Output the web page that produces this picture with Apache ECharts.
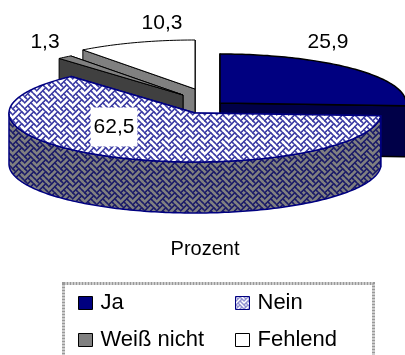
<!DOCTYPE html>
<html><head><meta charset="utf-8">
<style>html,body{margin:0;padding:0;background:#fff}#c{width:405px;height:355px}</style>
<script src="https://cdn.jsdelivr.net/npm/echarts@6/dist/echarts.min.js"></script>
</head><body><div id="c"></div>
<script>
const categories = ['Ja', 'Nein', 'Weiß nicht', 'Fehlend'];
const values = [25.9, 62.5, 1.3, 10.3];
const axisTitle = 'Prozent';

// drawing geometry, separate from the data
const RX = 186, RY = 49, DEPTH = 51;
const apex = [[220,103],[195,113],[183,95],[195,89]];
const labelAt = [[328,42],[114,127],[45,42],[162,23]];
const stack = [3,4,2,1];
const FONT = '"Liberation Sans", Arial, sans-serif';
const WEAVE = [0x88,0x54,0x22,0x45,0x88,0x14,0x22,0x51];
function weave(bg, fg, s, w){
  const T = 8*s;
  const o = document.createElement('canvas'); o.width = o.height = T;
  const c = o.getContext('2d');
  c.fillStyle = bg; c.fillRect(0,0,T,T);
  c.strokeStyle = fg; c.lineWidth = w; c.lineCap = 'square';
  const on = (x,y)=>WEAVE[(y+8)%8] & (0x80>>((x+8)%8));
  for(let ox=-1;ox<=1;ox++) for(let oy=-1;oy<=1;oy++)
    for(let y=0;y<8;y++) for(let x=0;x<8;x++){
      if(!on(x,y)) continue;
      [[1,1],[-1,1]].forEach(([dx,dy])=>{
        if(on(x+dx,y+dy)){
          c.beginPath();
          c.moveTo((x+ox*8+.5)*s,(y+oy*8+.5)*s);
          c.lineTo((x+dx+ox*8+.5)*s,(y+dy+oy*8+.5)*s);
          c.stroke();
        }
      });
    }
  return {image:o, repeat:'repeat'};
}
const topFill = weave('#ffffff','#3c3ca4',1.5,1.3);
const sideFill = weave('#808080','#1c1c68',1.5,1.3);
const looks = [
  {top:'#000080', wall:'#000048', rim:'#000048', line:'#000000', lw:1.5},
  {top:topFill, wall:sideFill, rim:sideFill, line:'#000080', lw:1.5},
  {top:'#808080', wall:'#404040', rim:'#404040', line:'#000000', lw:1},
  {top:'#ffffff', wall:'#808080', rim:'#808080', line:'#000000', lw:1}
];
const total = values.reduce((a,b)=>a+b,0);
const label = v => String(v).replace('.',',');

function renderSlice(params){
  const i = params.seriesIndex;
  const before = values.slice(0,i).reduce((a,b)=>a+b,0);
  const t0 = before/total*2*Math.PI, t1 = (before+values[i])/total*2*Math.PI;
  const [ax,ay] = apex[i], L = looks[i];
  const pt = (t,dz)=>[ax+RX*Math.sin(t), ay-RY*Math.cos(t)+(dz||0)];
  const arc = (a,b,dz)=>{ const n=Math.max(2,Math.ceil((b-a)/0.02)), r=[];
    for(let k=0;k<=n;k++) r.push(pt(a+(b-a)*k/n,dz)); return r; };
  const st = (fill)=>({fill, stroke:L.line, lineWidth:L.lw, lineJoin:'round'});
  const kids = [];
  const wall = t=>{ const p=pt(t); kids.push({type:'polygon',shape:{points:[[ax,ay],p,[p[0],p[1]+DEPTH],[ax,ay+DEPTH]]},style:st(L.wall)}); };
  wall(t1); wall(t0);
  const a = Math.max(t0,Math.PI/2), b = Math.min(t1,1.5*Math.PI);
  if(b>a){ kids.push({type:'polygon',shape:{points:arc(a,b,0).concat(arc(a,b,DEPTH).reverse())},style:st(L.rim)}); }
  kids.push({type:'polygon',shape:{points:[[ax,ay]].concat(arc(t0,t1,0))},style:st(L.top)});
  const isInner = i===1;
  kids.push({type:'text',z2:10,style:{text:label(values[i]),x:labelAt[i][0],y:labelAt[i][1],align:'center',verticalAlign:'middle',
    font:'21px '+FONT,fill:'#000',backgroundColor:isInner?'#fff':'transparent',padding:isInner?[9,3,9,3]:0}});
  return {type:'group',children:kids};
}
const series = categories.map((name,i)=>({
  type:'custom', name, coordinateSystem:'none', silent:true, animation:false, clip:false, z:stack[i],
  data:[[values[i]]], renderItem:renderSlice,
  itemStyle:{color:i===1?topFill:looks[i].top}
}));
const swatch = i=>({name:categories[i], icon:'rect',
  itemStyle:{color:i===1?weave('#ffffff','#2020a0',1,1):looks[i].top,borderColor:i===1?'#000080':'#000',borderWidth:1}});
const legendBase = {orient:'vertical',top:292,itemWidth:14,itemHeight:13,itemGap:15,selectedMode:false,
  textStyle:{fontFamily:FONT,fontSize:22,color:'#000',padding:[0,0,0,3]},padding:0};

const chart = echarts.init(document.getElementById('c'),null,{renderer:'canvas',width:405,height:355});
chart.setOption({
  animation:false, backgroundColor:'#fff',
  title:{text:axisTitle,left:205,top:239,textAlign:'center',padding:0,
    textStyle:{fontFamily:FONT,fontSize:20,fontWeight:'normal',color:'#000'}},
  legend:[
    Object.assign({},legendBase,{left:78,data:[swatch(0),swatch(2)]}),
    Object.assign({},legendBase,{left:235,data:[swatch(1),swatch(3)]})
  ],
  graphic:[{type:'rect',z:-1,shape:{x:63.5,y:283.5,width:310,height:90},
    style:{fill:'#fff',stroke:'#999999',lineWidth:3,lineDash:[2,1]}}],
  series
});
</script></body></html>
